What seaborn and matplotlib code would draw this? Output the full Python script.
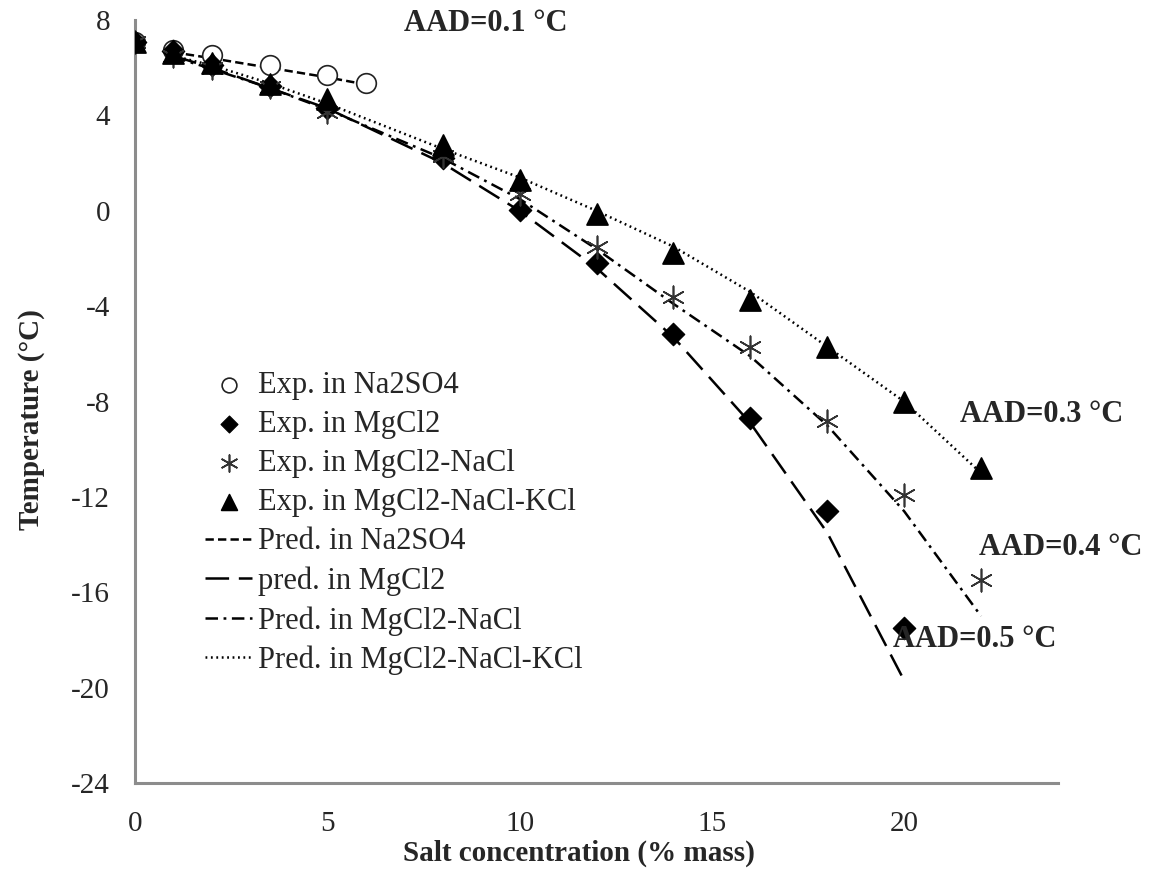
import numpy as np
import pandas as pd
import matplotlib
matplotlib.use("Agg")
import matplotlib.pyplot as plt
import seaborn as sns

# experimental points
x_na2so4 = [0, 1, 2, 3.5, 5, 6]
t_na2so4 = [7.1, 6.75, 6.55, 6.1, 5.7, 5.35]

x_salts = [0, 1, 2, 3.5, 5, 8, 10, 12, 14, 16, 18, 20, 22]
t_mgcl2 = [7.1, 6.7, 6.1, 5.25, 4.3, 2.2, 0.05, -2.2, -5.15, -8.7, -12.6, -17.5]
t_mgcl2_nacl = [7.1, 6.5, 6.0, 5.2, 4.15, 2.3, 0.7, -1.5, -3.6, -5.7, -8.8, -11.9, -15.5]
t_mgcl2_nacl_kcl = [7.1, 6.6, 6.2, 5.3, 4.7, 2.75, 1.3, -0.15, -1.75, -3.75, -5.7, -8.0, -10.8]

# model predictions
xp_na2so4 = [1, 2, 3.5, 5, 6]
tp_na2so4 = [6.65, 6.4, 6.0, 5.6, 5.3]

xp_salts = [1, 2, 3.5, 5, 8, 10, 12, 14, 16, 18, 20, 22]
tp_mgcl2 = [6.5, 6.0, 5.15, 4.3, 2.0, 0.0, -2.4, -5.3, -8.9, -13.5, -19.7]
tp_mgcl2_nacl = [6.45, 5.95, 5.15, 4.25, 2.2, 0.5, -1.6, -3.9, -6.1, -9.0, -12.6, -17.0]
tp_mgcl2_nacl_kcl = [6.5, 6.1, 5.35, 4.5, 2.6, 1.4, 0.0, -1.5, -3.4, -5.7, -8.0, -11.0]

aad_labels = ["AAD=0.1 °C", "AAD=0.3 °C", "AAD=0.4 °C", "AAD=0.5 °C"]
aad_pos = [(7.0, 7.85), (21.45, -8.55), (21.95, -14.1), (19.7, -18.0)]

sns.set_style("white")
plt.rcParams["font.family"] = ["Liberation Serif", "DejaVu Serif"]
plt.rcParams["lines.scale_dashes"] = False
plt.rcParams["axes.unicode_minus"] = False

fig = plt.figure(figsize=(11.51, 8.82), dpi=100)
ax = fig.add_axes([0.1173, 0.1122, 0.8019, 0.865])

# predictions
sns.lineplot(x=xp_na2so4, y=tp_na2so4, ax=ax, color="black", lw=1.8,
             linestyle=(0, (6, 3)), label="Pred. in Na2SO4", sort=False)
sns.lineplot(x=xp_salts[:len(tp_mgcl2)], y=tp_mgcl2, ax=ax, color="black", lw=1.8,
             linestyle=(0, (17, 7)), label="pred. in MgCl2", sort=False)
sns.lineplot(x=xp_salts, y=tp_mgcl2_nacl, ax=ax, color="black", lw=1.8,
             linestyle=(0, (9, 4, 2, 4)), label="Pred. in MgCl2-NaCl", sort=False)
sns.lineplot(x=xp_salts, y=tp_mgcl2_nacl_kcl, ax=ax, color="black", lw=1.8,
             linestyle=(0, (1.3, 2.6)), label="Pred. in MgCl2-NaCl-KCl", sort=False)

# experiments
sns.scatterplot(x=x_na2so4, y=t_na2so4, ax=ax, marker="o", s=200,
                facecolor="white", edgecolor="#222222", linewidth=1.2,
                label="Exp. in Na2SO4", zorder=3)
sns.scatterplot(x=x_salts[:len(t_mgcl2)], y=t_mgcl2, ax=ax, marker="D", s=130,
                color="black", edgecolor="black", label="Exp. in MgCl2", zorder=3)
sns.scatterplot(x=x_salts, y=t_mgcl2_nacl, ax=ax, marker=(6, 2, 0), s=260,
                color="#333333", linewidth=1.2, label="Exp. in MgCl2-NaCl", zorder=3)
sns.scatterplot(x=x_salts, y=t_mgcl2_nacl_kcl, ax=ax, marker="^", s=230,
                color="black", edgecolor="black", label="Exp. in MgCl2-NaCl-KCl", zorder=3)

for txt, (tx, ty) in zip(aad_labels, aad_pos):
    ax.text(tx, ty, txt, fontsize=22, fontweight="bold", ha="left", va="center")

ax.set_xlim(0, 24)
ax.set_ylim(-24, 8)
ax.set_xticks([0, 5, 10, 15, 20])
ax.set_yticks(np.arange(-24, 9, 4))
ax.tick_params(length=0, labelsize=21)
ax.tick_params(axis="x", pad=20)
ax.tick_params(axis="y", pad=18)
for side in ["top", "right"]:
    ax.spines[side].set_visible(False)
for side in ["left", "bottom"]:
    ax.spines[side].set_color("#8c8c8c")
    ax.spines[side].set_linewidth(2.2)

ax.set_xlabel("Salt concentration (% mass)", fontsize=21, fontweight="bold")
ax.set_ylabel("Temperature (°C)", fontsize=21, fontweight="bold")
ax.xaxis.set_label_coords(0.481, -0.074)
ax.yaxis.set_label_coords(-0.098, 0.476)

handles, labels = ax.get_legend_handles_labels()
order = [4, 5, 6, 7, 0, 1, 2, 3]
ax.legend([handles[i] for i in order], [labels[i] for i in order],
          loc="upper left", bbox_to_anchor=(205 / 1151, 1 - 371 / 882),
          bbox_transform=fig.transFigure, frameon=False, fontsize=22,
          borderpad=0, borderaxespad=0, labelspacing=0.33, handlelength=1.55,
          handletextpad=0.2, markerscale=0.75)

fig.savefig("out.png", dpi=100)
